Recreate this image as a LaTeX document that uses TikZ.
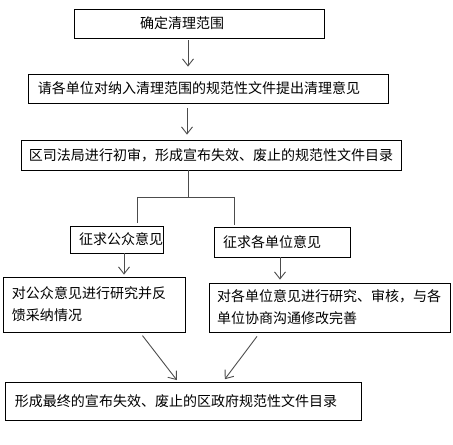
\documentclass[tikz,border=0pt]{standalone}
\usepackage{fontspec}
\usepackage{xcolor}
\usepackage{tikz}
\usetikzlibrary{arrows.meta,calc}
\newfontfamily\cjk{Noto Sans CJK SC}
\colorlet{Line}{black!70}

\begin{document}
\begin{tikzpicture}[x=1bp,y=-1bp,
  box/.style={draw=black,line width=0.8bp,inner ysep=0pt,align=left,
    font=\cjk\fontsize{14bp}{22bp}\selectfont},
  link/.style={draw=Line,line width=0.9bp},
  arr/.style={link,-{Straight Barb[length=7bp,width=11bp]}}
]
\useasboundingbox (0,0) rectangle (453,445);
% boxes: name / left / top / right / bottom / text offset / text
\foreach \name/\xa/\ya/\xb/\yb/\pad/\txt in {
  range/74/9/324/38/66/{确定清理范围},
  opinion/28/74/388/103/10/{请各单位对纳入清理范围的规范性文件提出清理意见},
  review/21/140/401/170/8/{区司法局进行初审，形成宣布失效、废止的规范性文件目录},
  public/70/226/163/253/9/{征求公众意见},
  units/214/227/350/257/9/{征求各单位意见},
  pubreply/3/277/185/332/9/{对公众意见进行研究并反\\馈采纳情况},
  unitreply/209/283/450/332/8/{对各单位意见进行研究、审核，与各\\单位协商沟通修改完善},
  final/5/382/361/420/10/{形成最终的宣布失效、废止的区政府规范性文件目录}
} {
  \pgfmathsetmacro{\tw}{\xb-\xa-2*\pad}
  \pgfmathsetmacro{\bh}{\yb-\ya}
  \node[box,text width=\tw bp,inner xsep=\pad bp,minimum height=\bh bp]
    (\name) at ({(\xa+\xb)/2},{(\ya+\yb)/2}) {\txt};
}
% main line
\draw[arr,shorten <=2bp,shorten >=7bp] ([xshift=-11bp]range.south)
  -- ([xshift=-11bp]range.south |- opinion.north);
\draw[arr,shorten <=5bp,shorten >=5bp] ([xshift=-21bp]opinion.south)
  -- ([xshift=-21bp]opinion.south |- review.north);
% fork
\coordinate (fork) at (188,197);
\coordinate (forkL) at (137,197);
\coordinate (forkR) at (234,197);
\draw[link] (review.south -| fork) -- (fork);
\draw[link] (forkL) -- (forkR);
\draw[link,shorten >=3bp] (forkL) -- (forkL |- public.north);
\draw[link,shorten >=2bp] (forkR) -- (forkR |- units.north);
\draw[arr,shorten >=2bp] ([xshift=7.5bp]public.south)
  -- ([xshift=7.5bp]public.south |- pubreply.north);
\draw[arr,shorten >=3bp] ([xshift=-2bp]units.south)
  -- ([xshift=-2bp]units.south |- unitreply.north);
% join
\draw[arr,shorten <=4bp,shorten >=2bp] ([xshift=46bp]pubreply.south)
  -- ([xshift=-5bp]final.north);
\draw[arr,shorten <=5bp,shorten >=3bp] ([xshift=-69.5bp]unitreply.south)
  -- ([xshift=40bp]final.north);
\end{tikzpicture}
\end{document}
